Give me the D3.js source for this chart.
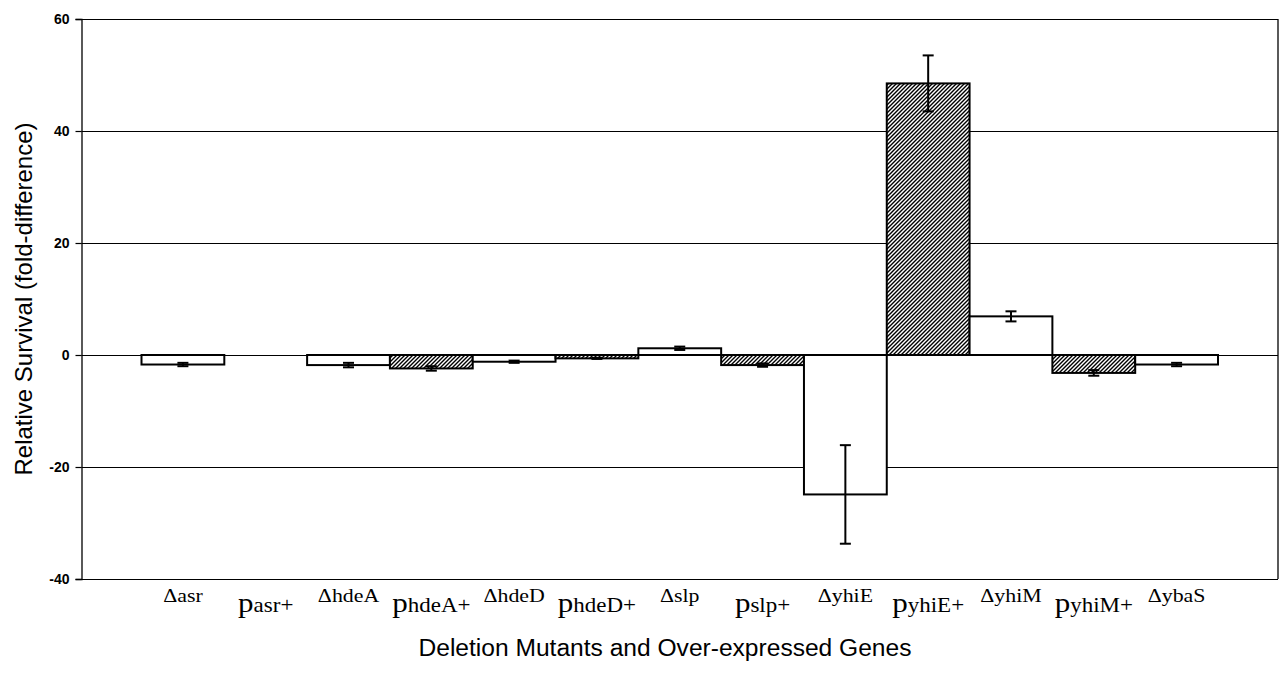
<!DOCTYPE html>
<html>
<head>
<meta charset="utf-8">
<script src="https://cdn.jsdelivr.net/npm/d3@7"></script>
<style>
  html, body { margin: 0; padding: 0; background: #fff; }
  svg { display: block; }
</style>
</head>
<body>
<svg id="chart" width="1281" height="687"></svg>
<script>
// ---- data ----
const categories = ["Δasr", "pasr+", "ΔhdeA", "phdeA+", "ΔhdeD", "phdeD+", "Δslp", "pslp+", "ΔyhiE", "pyhiE+", "ΔyhiM", "pyhiM+", "ΔybaS"];
const values     = [-1.7, null, -1.8, -2.4, -1.2, -0.6, 1.2, -1.8, -24.9, 48.5, 6.9, -3.2, -1.7];
const errors     = [0.3, null, 0.4, 0.4, 0.2, 0.1, 0.3, 0.3, 8.8, 5.0, 0.9, 0.5, 0.3];
const yTicks     = [60, 40, 20, 0, -20, -40];
const yTitle = "Relative Survival (fold-difference)";
const xTitle = "Deletion Mutants and Over-expressed Genes";

const svg = d3.select("#chart");
const plot = { left: 81.5, right: 1278, top: 19, bottom: 579 };

const y = d3.scaleLinear().domain([-40, 60]).range([plot.bottom, plot.top]);
const x = d3.scaleBand().domain(categories).range([141.5, 1218]).paddingInner(0).paddingOuter(0);

// hatch pattern
const defs = svg.append("defs");
const pat = defs.append("pattern")
  .attr("id", "hatch").attr("patternUnits", "userSpaceOnUse")
  .attr("width", 4).attr("height", 4);
pat.append("rect").attr("width", 4).attr("height", 4).attr("fill", "#fff");
pat.append("path")
  .attr("d", "M-1,1 l2,-2 M0,4 l4,-4 M3,5 l2,-2")
  .attr("stroke", "#000").attr("stroke-width", 1.4);

// gridlines
svg.append("g").selectAll("line").data(yTicks).join("line")
  .attr("x1", plot.left).attr("x2", plot.right)
  .attr("y1", d => Math.round(y(d)) + 0.5).attr("y2", d => Math.round(y(d)) + 0.5)
  .attr("stroke", "#000").attr("stroke-width", 1.2);

// right border
svg.append("line")
  .attr("x1", plot.right).attr("x2", plot.right)
  .attr("y1", y(60)).attr("y2", y(-40))
  .attr("stroke", "#000").attr("stroke-width", 1.3);

// left axis
const yAxis = d3.axisLeft(y).tickValues(yTicks).tickSize(6).tickPadding(6).tickFormat(d => String(d));
const gy = svg.append("g").attr("transform", `translate(${plot.left},0)`).call(yAxis);
gy.select(".domain").attr("stroke", "#000").attr("stroke-width", 1.3);
gy.selectAll(".tick line").attr("stroke", "#000").attr("stroke-width", 1.2);
gy.selectAll(".tick text")
  .attr("font-family", "Liberation Sans, Arial, sans-serif")
  .attr("font-weight", "bold").attr("font-size", 14).attr("fill", "#000");

// bars
const barData = categories.map((c, i) => ({ c, v: values[i], e: errors[i] })).filter(d => d.v !== null);
svg.append("g").selectAll("rect").data(barData).join("rect")
  .attr("x", d => x(d.c))
  .attr("width", x.bandwidth())
  .attr("y", d => y(Math.max(0, d.v)))
  .attr("height", d => Math.abs(y(d.v) - y(0)))
  .attr("fill", d => d.c.startsWith("p") ? "url(#hatch)" : "#fff")
  .attr("stroke", "#000").attr("stroke-width", 2);

// error bars
const eb = svg.append("g").selectAll("g").data(barData).join("g");
eb.append("line")
  .attr("x1", d => x(d.c) + x.bandwidth() / 2).attr("x2", d => x(d.c) + x.bandwidth() / 2)
  .attr("y1", d => y(d.v + d.e)).attr("y2", d => y(d.v - d.e))
  .attr("stroke", "#000").attr("stroke-width", 2);
eb.selectAll("line.cap").data(d => [[d, d.v + d.e], [d, d.v - d.e]]).join("line")
  .attr("class", "cap")
  .attr("x1", ([d]) => x(d.c) + x.bandwidth() / 2 - 5.5)
  .attr("x2", ([d]) => x(d.c) + x.bandwidth() / 2 + 5.5)
  .attr("y1", ([, v]) => y(v)).attr("y2", ([, v]) => y(v))
  .attr("stroke", "#000").attr("stroke-width", 2);

// category labels
const lab = svg.append("g").attr("font-family", "Liberation Serif, Times New Roman, serif").attr("fill", "#000");
categories.forEach(c => {
  const cx = x(c) + x.bandwidth() / 2;
  if (c.startsWith("p")) {
    const t = lab.append("text").attr("transform", `translate(${cx},612) scale(1.15,1)`).attr("text-anchor", "middle");
    t.append("tspan").attr("font-size", 27).text("p");
    t.append("tspan").attr("font-size", 20).text(c.slice(1));
  } else {
    lab.append("text").attr("transform", `translate(${cx},602) scale(1.15,1)`).attr("text-anchor", "middle")
      .attr("font-size", 19).text(c);
  }
});

// axis titles
svg.append("text")
  .attr("x", 665).attr("y", 656)
  .attr("text-anchor", "middle")
  .attr("font-family", "Liberation Sans, Arial, sans-serif")
  .attr("font-size", 23).attr("fill", "#000")
  .attr("textLength", 493).attr("lengthAdjust", "spacingAndGlyphs")
  .text(xTitle);

svg.append("text")
  .attr("transform", "translate(32,299) rotate(-90)")
  .attr("text-anchor", "middle")
  .attr("font-family", "Liberation Sans, Arial, sans-serif")
  .attr("font-size", 24).attr("fill", "#000")
  .text(yTitle);
</script>
</body>
</html>
